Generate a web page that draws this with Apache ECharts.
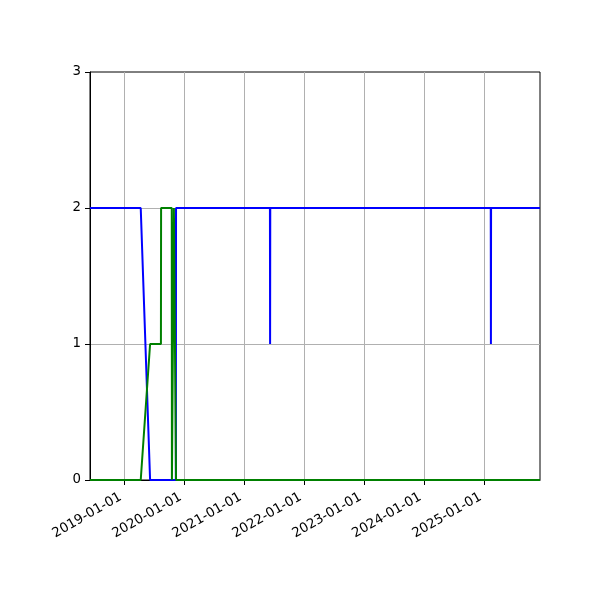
<!DOCTYPE html>
<html>
<head>
<meta charset="utf-8">
<script src="https://cdn.jsdelivr.net/npm/echarts@6/dist/echarts.min.js"></script>
<style>html,body{margin:0;padding:0;background:#fff}#c{width:600px;height:600px}</style>
</head>
<body>
<div id="c"></div>
<script>
// Blue series (date, value)
const blueDates  = ['2018-06-07','2019-04-12','2019-06-08','2019-11-12','2019-11-13','2021-06-07','2021-06-08','2021-06-09','2025-02-11','2025-02-12','2025-02-13','2025-12-08'];
const blueValues = [2,2,0,0,2,2,1,2,2,1,2,2];
// Green series (date, value)
const greenDates  = ['2018-06-07','2019-04-12','2019-06-08','2019-08-13','2019-08-14','2019-10-18','2019-10-19','2019-10-30','2019-10-31','2019-11-12','2019-11-13','2025-12-08'];
const greenValues = [0,0,1,1,2,2,0,0,2,2,0,0];
// Axis ticks
const xTickLabels = ['2019-01-01','2020-01-01','2021-01-01','2022-01-01','2023-01-01','2024-01-01','2025-01-01'];
const xMin = '2018-06-07';
const xMax = '2025-12-08';
const yTicks = [0,1,2,3];

function ts(s){ const p = s.split('-').map(Number); return Date.UTC(p[0], p[1]-1, p[2]); }
function fmt(v){ const d = new Date(v); const m = d.getUTCMonth()+1, dd = d.getUTCDate();
  return d.getUTCFullYear() + '-' + (m<10?'0':'') + m + '-' + (dd<10?'0':'') + dd; }

const xTickVals = xTickLabels.map(ts);
const font = 'DejaVu Sans';

const chart = echarts.init(document.getElementById('c'), null, {renderer:'canvas'});
chart.setOption({
  animation: false,
  backgroundColor: '#fff',
  grid: {left: 90, right: 60, top: 72, bottom: 120, show: true, borderColor: '#000', borderWidth: 1, backgroundColor: 'transparent'},
  xAxis: {
    type: 'value',
    min: ts(xMin), max: ts(xMax),
    axisLine: {show: true, lineStyle: {color: '#000', width: 1}},
    axisTick: {show: true, inside: false, length: 5, lineStyle: {color: '#000', width: 1}, customValues: xTickVals},
    axisLabel: {show: true, rotate: 30, margin: 14, padding: [0, 4, 0, 0], color: '#000', fontFamily: font, fontSize: 13.33, customValues: xTickVals, formatter: fmt, hideOverlap: false},
    splitLine: {show: true, lineStyle: {color: '#b0b0b0', width: 1}},
    minorTick: {show: false}
  },
  yAxis: {
    type: 'value', min: yTicks[0], max: yTicks[yTicks.length-1], interval: 1,
    axisLine: {show: true, lineStyle: {color: '#000', width: 1}},
    axisTick: {show: true, inside: false, length: 5, lineStyle: {color: '#000', width: 1}},
    axisLabel: {color: '#000', fontFamily: font, fontSize: 13.33, margin: 9},
    splitLine: {show: true, showMinLine: false, showMaxLine: false, lineStyle: {color: '#b0b0b0', width: 1}}
  },
  series: [
    {type: 'line', data: blueDates.map((d,i)=>[ts(d), blueValues[i]]), showSymbol: false, symbol: 'none',
     lineStyle: {color: '#0000ff', width: 2}, itemStyle: {color: '#0000ff'}, z: 3, clip: true},
    {type: 'line', data: greenDates.map((d,i)=>[ts(d), greenValues[i]]), showSymbol: false, symbol: 'none',
     lineStyle: {color: '#008000', width: 2}, itemStyle: {color: '#008000'}, z: 4, clip: true}
  ]
});
</script>
</body>
</html>
